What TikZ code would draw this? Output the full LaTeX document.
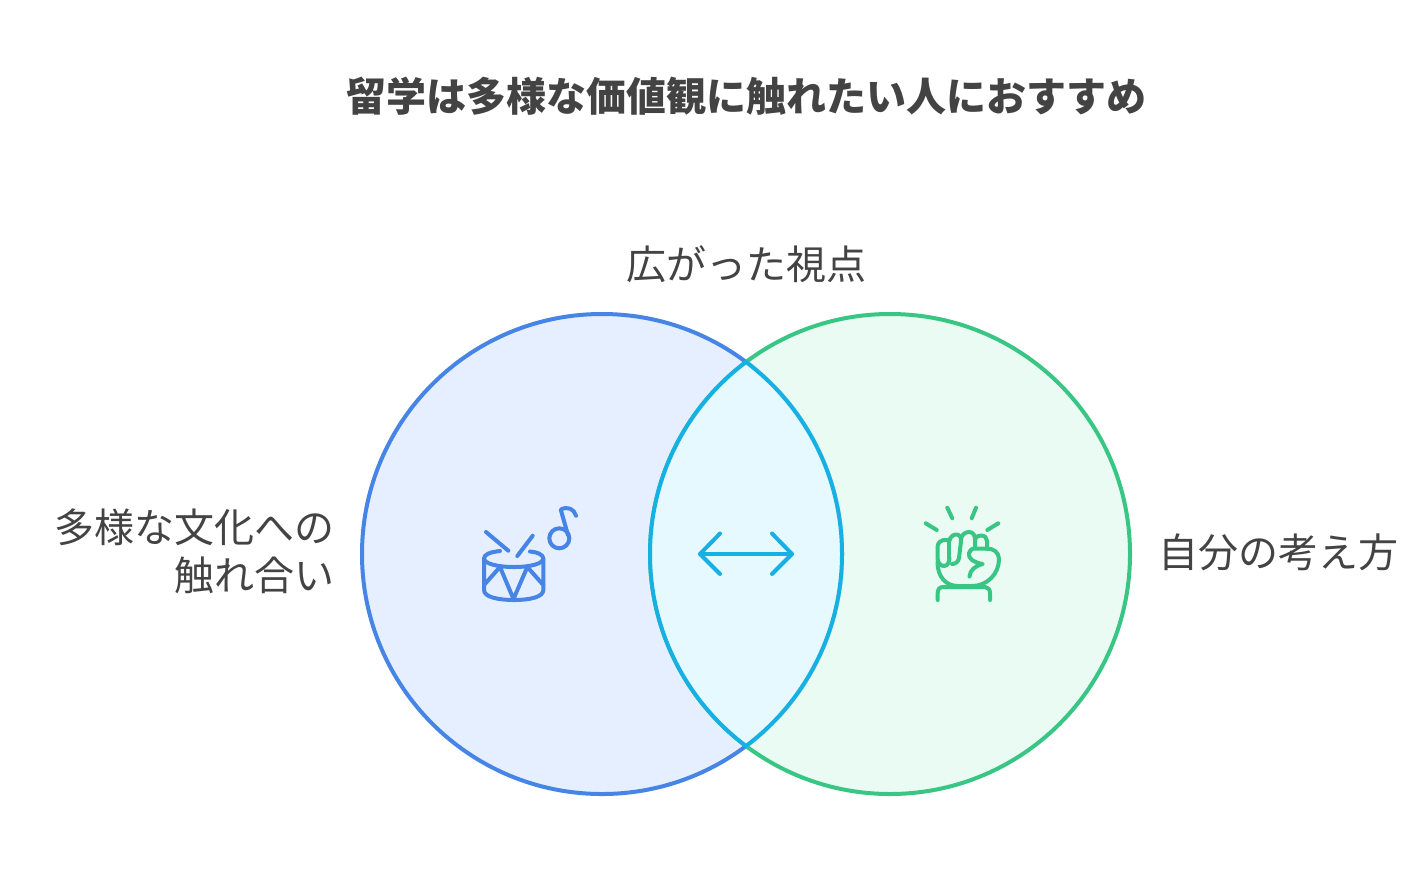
\documentclass[tikz,border=0pt]{standalone}
\usepackage{fontspec}
\setmainfont{Noto Sans CJK JP}
\definecolor{txt}{HTML}{434343}
\definecolor{blueS}{HTML}{4685E6}
\definecolor{blueF}{HTML}{E6EFFF}
\definecolor{greenS}{HTML}{39C684}
\definecolor{greenF}{HTML}{E9FBF3}
\definecolor{cyanS}{HTML}{16B0E3}
\definecolor{cyanF}{HTML}{E6F9FF}
\tikzset{
  lab/.style={text=txt,font=\fontsize{40}{48}\selectfont,inner sep=0pt},
  ttl/.style={text=txt,font=\fontsize{40}{48}\selectfont\bfseries,inner sep=0pt},
  ico/.style={line width=4pt,line cap=round,line join=round},
  ring/.style={line width=4pt}
}
\begin{document}
\begin{tikzpicture}[x=1pt,y=-1pt]
\useasboundingbox (0,0) rectangle (1420,892);
\fill[white] (0,0) rectangle (1420,892);
% circles
\fill[blueF] (602,554) circle[radius=240pt];
\fill[greenF] (890,554) circle[radius=240pt];
\draw[ring,blueS] (602,554) circle[radius=240pt];
\draw[ring,greenS] (890,554) circle[radius=240pt];
\begin{scope}
  \clip (602,554) circle[radius=242pt];
  \fill[cyanF] (890,554) circle[radius=240pt];
  \draw[ring,cyanS] (890,554) circle[radius=240pt];
\end{scope}
\begin{scope}
  \clip (890,554) circle[radius=242pt];
  \draw[ring,cyanS] (602,554) circle[radius=240pt];
\end{scope}
% texts
\node[ttl] (title) at (746,96) {留学は多様な価値観に触れたい人におすすめ};
\node[lab] (top) at (746,264) {広がった視点};
\node[lab,align=right,anchor=east] (left) at (334.5,551.5) {多様な文化への\\触れ合い};
\node[lab,anchor=west] (right) at (1158,552) {自分の考え方};
% drum icon
\begin{scope}[ico,blueS]
  \draw (486,532) -- (508.3,550.7);
  \draw (532.7,535.7) -- (517.3,556);
  \draw (500,551) .. controls (490,552) and (484,554.5) .. (484,558.5)
        .. controls (484,563.5) and (497,567) .. (514,567)
        .. controls (531,567) and (543.3,563.5) .. (543.3,558.5)
        .. controls (543.3,554.5) and (537,552) .. (530,551.5);
  \draw (484,558.5) -- (484,590) .. controls (484,597) and (498,600) .. (514,600)
        .. controls (530,600) and (543.3,597) .. (543.3,590) -- (543.3,558.5);
  \draw (484,585) -- (500,567) -- (513.5,599) -- (527.3,567) -- (543.3,585);
  \draw (559.3,538.3) circle[radius=10pt];
  \draw (568,535) -- (560.7,509.5) .. controls (568,506) and (574,509) .. (576,515.7);
\end{scope}
% arrow icon
\begin{scope}[ico,cyanS]
  \draw (700,554) -- (792,554);
  \draw (720,533.5) -- (700,554) -- (720,574);
  \draw (772,533.5) -- (792,554) -- (772,574);
\end{scope}
% fist icon
\begin{scope}[ico,greenS]
  \draw (947.3,507.7) -- (952.3,518.3);
  \draw (976,507.7) -- (971.7,518.3);
  \draw (925.7,523.3) -- (936.7,530);
  \draw (998.3,523.3) -- (987.3,530);
  \draw (937.7,600) -- (937.7,593) .. controls (937.7,589.5) and (939.5,587) .. (943,587)
        -- (985,587) .. controls (988,587) and (990,589.5) .. (990,593) -- (990,600);
  % little finger
  \draw (947.3,540) .. controls (941,539) and (937.5,543) .. (937.5,547) -- (937.5,558)
        .. controls (937.5,563) and (941,566) .. (944,566) .. controls (948,566) and (949,562) .. (949.5,558);
  \draw (949,540) -- (949,558);
  % second finger
  \draw (949,542) .. controls (950,536) and (954,534.5) .. (956,534.5)
        .. controls (960,534.5) and (961,537) .. (961,541) -- (959,558) .. controls (958.5,562) and (955,564) .. (952,564);
  % third finger
  \draw (961,540) .. controls (961,535) and (965,532) .. (969,532)
        .. controls (973,532) and (975,535) .. (975,540) -- (975,548);
  % fourth finger
  \draw (975,540) .. controls (976,536) and (979,535.5) .. (981,535.5)
        .. controls (985,535.5) and (987,538) .. (987,541) -- (987,549);
  % palm and thumb
  \draw (937.5,562) .. controls (937.5,577) and (946,586) .. (958,586)
        -- (972,586) .. controls (987,586) and (999,574) .. (999,559)
        .. controls (999,552) and (993,548.5) .. (987,548.5)
        -- (975,548.5) .. controls (968,548.5) and (967,557) .. (972,560)
        .. controls (975,562) and (979,563.5) .. (982.7,564)
        .. controls (975,566) and (970,570) .. (969.5,576.5);
\end{scope}
\end{tikzpicture}
\end{document}
